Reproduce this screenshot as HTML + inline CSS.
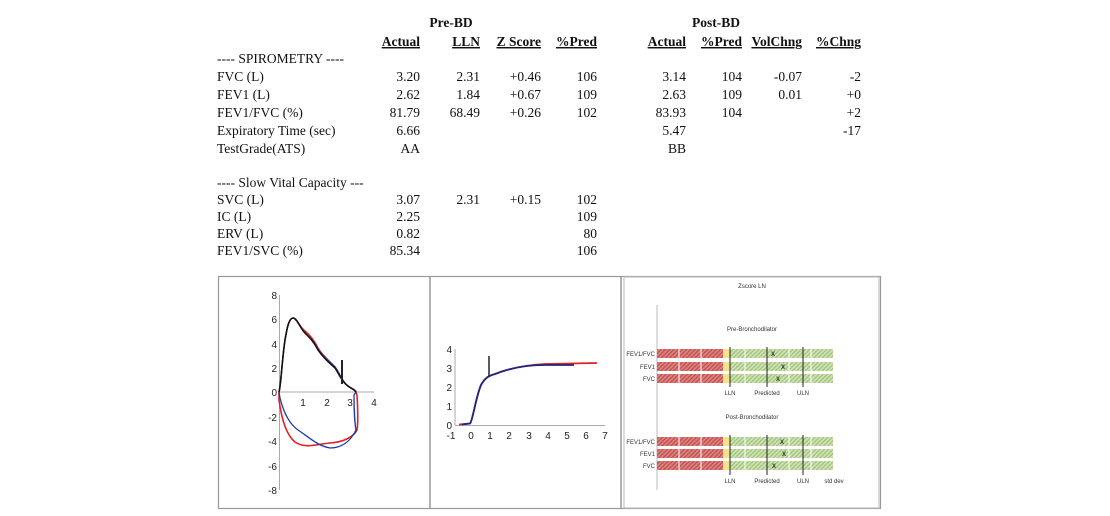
<!DOCTYPE html>
<html><head><style>
body{margin:0;background:#fff;}
svg{display:block}
.t{font-family:"Liberation Serif",serif;font-size:13.5px;fill:#111}
.h{font-weight:bold;text-decoration:underline}
.a{font-family:"Liberation Sans",sans-serif;font-size:10px;fill:#222}
.s{font-family:"Liberation Sans",sans-serif;font-size:6px;fill:#333}
</style></head><body>
<svg width="1110" height="516" viewBox="0 0 1110 516">
<defs>
<pattern id="pr" width="3" height="3" patternUnits="userSpaceOnUse" patternTransform="rotate(45)"><rect width="3" height="3" fill="#e0807c"/><rect width="1.2" height="3" fill="#b8504e"/></pattern>
<pattern id="pg" width="3" height="3" patternUnits="userSpaceOnUse" patternTransform="rotate(45)"><rect width="3" height="3" fill="#cfe3b0"/><rect width="1.2" height="3" fill="#9fc080"/></pattern>
</defs>
<g class="t">
<text x="451" y="27" text-anchor="middle" font-weight="bold">Pre-BD</text>
<text x="716" y="27" text-anchor="middle" font-weight="bold">Post-BD</text>
<g text-anchor="end" class="h">
<text x="420" y="46" class="h">Actual</text><text x="480" y="46" class="h">LLN</text><text x="541" y="46" class="h">Z Score</text><text x="597" y="46" class="h">%Pred</text>
<text x="686" y="46" class="h">Actual</text><text x="742" y="46" class="h">%Pred</text><text x="802" y="46" class="h">VolChng</text><text x="861" y="46" class="h">%Chng</text>
</g>
<text x="217" y="63">---- SPIROMETRY ----</text>
<text x="217" y="81">FVC (L)</text>
<text x="217" y="99">FEV1 (L)</text>
<text x="217" y="117">FEV1/FVC (%)</text>
<text x="217" y="135">Expiratory Time (sec)</text>
<text x="217" y="153">TestGrade(ATS)</text>
<text x="217" y="187">---- Slow Vital Capacity ---</text>
<text x="217" y="204">SVC (L)</text>
<text x="217" y="221">IC (L)</text>
<text x="217" y="238">ERV (L)</text>
<text x="217" y="255">FEV1/SVC (%)</text>
<g text-anchor="end">
<text x="420" y="81">3.20</text><text x="480" y="81">2.31</text><text x="541" y="81">+0.46</text><text x="597" y="81">106</text>
<text x="686" y="81">3.14</text><text x="742" y="81">104</text><text x="802" y="81">-0.07</text><text x="861" y="81">-2</text>
<text x="420" y="99">2.62</text><text x="480" y="99">1.84</text><text x="541" y="99">+0.67</text><text x="597" y="99">109</text>
<text x="686" y="99">2.63</text><text x="742" y="99">109</text><text x="802" y="99">0.01</text><text x="861" y="99">+0</text>
<text x="420" y="117">81.79</text><text x="480" y="117">68.49</text><text x="541" y="117">+0.26</text><text x="597" y="117">102</text>
<text x="686" y="117">83.93</text><text x="742" y="117">104</text><text x="861" y="117">+2</text>
<text x="420" y="135">6.66</text><text x="686" y="135">5.47</text><text x="861" y="135">-17</text>
<text x="420" y="153">AA</text><text x="686" y="153">BB</text>
<text x="420" y="204">3.07</text><text x="480" y="204">2.31</text><text x="541" y="204">+0.15</text><text x="597" y="204">102</text>
<text x="420" y="221">2.25</text><text x="597" y="221">109</text>
<text x="420" y="238">0.82</text><text x="597" y="238">80</text>
<text x="420" y="255">85.34</text><text x="597" y="255">106</text>
</g>
</g>
<rect x="218.5" y="276.5" width="662" height="232" fill="none" stroke="#999" stroke-width="1.2"/>
<line x1="430" y1="277" x2="430" y2="508" stroke="#666"/>
<line x1="621" y1="277" x2="621" y2="508" stroke="#666"/>
<rect x="624" y="277" width="255" height="231" fill="none" stroke="#bbb"/>
<g stroke="#aaa" stroke-width="1">
<line x1="279.5" y1="295" x2="279.5" y2="490"/>
<line x1="279.5" y1="392" x2="374" y2="392"/>
</g>
<g class="a" text-anchor="end">
<text x="277" y="299">8</text><text x="277" y="323">6</text><text x="277" y="348">4</text><text x="277" y="372">2</text><text x="277" y="396">0</text>
<text x="277" y="421">-2</text><text x="277" y="445">-4</text><text x="277" y="470">-6</text><text x="277" y="494">-8</text>
</g>
<g class="a" text-anchor="middle"><text x="303" y="406">1</text><text x="327" y="406">2</text><text x="350" y="406">3</text><text x="374" y="406">4</text></g>
<path d="M279 392 C281 385 282 360 285 340 C287 328 289 318 293 318 C297 318 300 328 305 331 C310 335 314 340 318 348 C322 355 328 360 335 367 C339 372 342 382 348 386 C352 389 356 390 356 392 L357 395 C358 410 358 425 357 430 C354 436 345 442 330 443 C318 444 305 449 295 442 C285 434 281 415 279 400 Z" fill="none" stroke="#d22" stroke-width="1.6"/>
<path d="M279 392 C281 385 282 360 285 340 C287 328 289 318 293 318 C297 318 300 328 305 333 C310 338 313 340 316 346 C320 354 328 360 335 367 C339 372 342 382 348 386 C352 389 355 390 356 392 L354 395 C354 410 355 425 356 430 C352 438 345 448 330 448 C318 446 310 438 298 430 C288 423 283 410 280 398 Z" fill="none" stroke="#1a3aa8" stroke-width="1.3"/>
<path d="M279 392 C281 385 282 360 285 340 C287 328 289 318 293 318 C297 318 300 328 305 333 C310 338 314 342 318 350 C322 356 328 362 335 368 C339 374 342 382 348 386 C352 389 355 390 356 392" fill="none" stroke="#111" stroke-width="1.5"/>
<line x1="342" y1="360" x2="342" y2="384" stroke="#223" stroke-width="2"/>
<g stroke="#aaa"><line x1="455" y1="349" x2="455" y2="425"/><line x1="455" y1="425.5" x2="605" y2="425.5"/></g>
<g class="a" text-anchor="end"><text x="452" y="353">4</text><text x="452" y="372">3</text><text x="452" y="391">2</text><text x="452" y="410">1</text><text x="452" y="429">0</text></g>
<g class="a" text-anchor="middle"><text x="451" y="439">-1</text><text x="471" y="439">0</text><text x="490" y="439">1</text><text x="509" y="439">2</text><text x="529" y="439">3</text><text x="548" y="439">4</text><text x="567" y="439">5</text><text x="586" y="439">6</text><text x="605" y="439">7</text></g>
<path d="M459 424.5 L470 423.5 C473 420 475 400 481 385 C485 378 488 376 495 374 C510 368 525 365 545 364 L597 363" fill="none" stroke="#d22" stroke-width="1.8"/>
<path d="M462 424.5 L470 423.5 C473 420 475 400 481 385 C485 378 488 376 495 374 C510 368 525 365 545 365 L574 365" fill="none" stroke="#1a2a80" stroke-width="1.8"/>
<line x1="489" y1="356" x2="489" y2="377" stroke="#223" stroke-width="1.5"/>
<text x="752" y="288" class="s" text-anchor="middle">Zscore LN</text>
<line x1="657" y1="305" x2="657" y2="490" stroke="#bbb"/>
<text x="752" y="331" class="s" text-anchor="middle">Pre-Bronchodilator</text>
<text x="752" y="419" class="s" text-anchor="middle">Post-Bronchodilator</text>
<g>
<rect x="657" y="349" width="66" height="9" fill="url(#pr)"/><rect x="723" y="349" width="7" height="9" fill="#f3e48c"/><rect x="730" y="349" width="103" height="9" fill="url(#pg)"/>
<rect x="657" y="362" width="66" height="9" fill="url(#pr)"/><rect x="723" y="362" width="7" height="9" fill="#f3e48c"/><rect x="730" y="362" width="103" height="9" fill="url(#pg)"/>
<rect x="657" y="374" width="66" height="9" fill="url(#pr)"/><rect x="723" y="374" width="7" height="9" fill="#f3e48c"/><rect x="730" y="374" width="103" height="9" fill="url(#pg)"/>
<rect x="657" y="437" width="66" height="9" fill="url(#pr)"/><rect x="723" y="437" width="7" height="9" fill="#f3e48c"/><rect x="730" y="437" width="103" height="9" fill="url(#pg)"/>
<rect x="657" y="449" width="66" height="9" fill="url(#pr)"/><rect x="723" y="449" width="7" height="9" fill="#f3e48c"/><rect x="730" y="449" width="103" height="9" fill="url(#pg)"/>
<rect x="657" y="461" width="66" height="9" fill="url(#pr)"/><rect x="723" y="461" width="7" height="9" fill="#f3e48c"/><rect x="730" y="461" width="103" height="9" fill="url(#pg)"/>
</g>
<g stroke="#fff" stroke-width="1">
<path d="M679 347V385M701 347V385M745 347V385M789 347V385M811 347V385M679 435V472M701 435V472M745 435V472M789 435V472M811 435V472"/>
</g>
<g stroke="#222" stroke-width="1">
<path d="M730 347V387M767 347V387M803 347V387M730 435V475M767 435V475M803 435V475"/>
</g>
<g class="s" font-size="7" font-weight="bold">
<text x="771" y="356">X</text><text x="781" y="369">X</text><text x="776" y="381">X</text>
<text x="780" y="444">X</text><text x="782" y="456">X</text><text x="772" y="468">X</text>
</g>
<g class="s" text-anchor="end">
<text x="655" y="356">FEV1/FVC</text><text x="655" y="369">FEV1</text><text x="655" y="381">FVC</text>
<text x="655" y="444">FEV1/FVC</text><text x="655" y="456">FEV1</text><text x="655" y="468">FVC</text>
</g>
<g class="s" text-anchor="middle">
<text x="730" y="395">LLN</text><text x="767" y="395">Predicted</text><text x="803" y="395">ULN</text>
<text x="730" y="483">LLN</text><text x="767" y="483">Predicted</text><text x="803" y="483">ULN</text><text x="834" y="483">std dev</text>
</g>
</svg>
</body></html>
